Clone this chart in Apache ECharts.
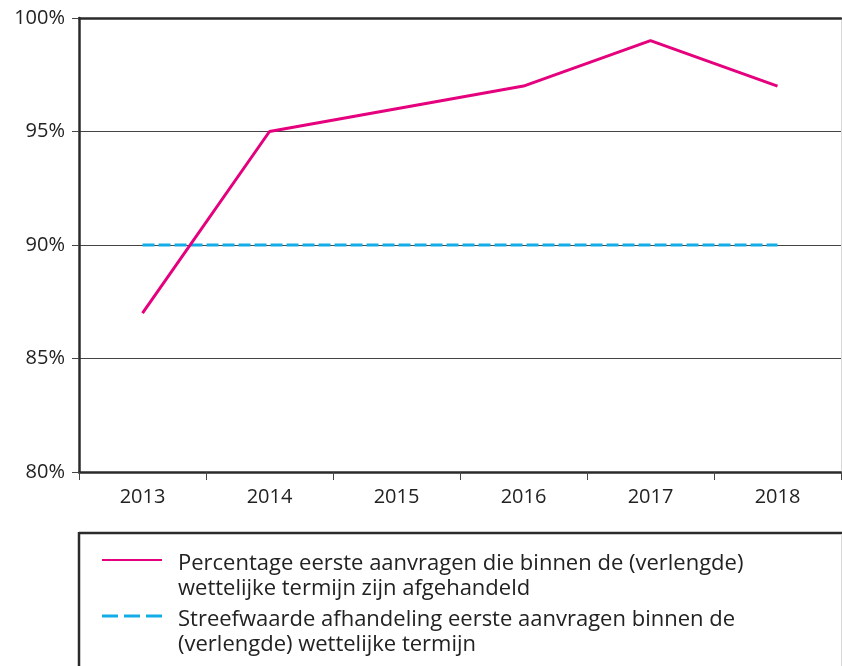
<!DOCTYPE html>
<html>
<head>
<meta charset="utf-8">
<script src="https://cdn.jsdelivr.net/npm/echarts@6/dist/echarts.min.js"></script>
<style>
  html, body { margin: 0; padding: 0; background: #fff; }
  #chart { width: 842px; height: 666px; }
</style>
</head>
<body>
<div id="chart"></div>
<script>
// jaren
const years = ['2013', '2014', '2015', '2016', '2017', '2018']
// percentage afgehandeld binnen termijn
const percentage = [87, 95, 96, 97, 99, 97]
// streefwaarde
const target = [90, 90, 90, 90, 90, 90]
const seriesNames = [
  'Percentage eerste aanvragen die binnen de (verlengde)\nwettelijke termijn zijn afgehandeld',
  'Streefwaarde afhandeling eerste aanvragen binnen de\n(verlengde) wettelijke termijn'
]

const pink = '#e5007d'
const cyan = '#12ade6'
const font = "'Open Sans', 'Liberation Sans', Arial, sans-serif"

const myChart = echarts.init(document.getElementById('chart'))

// lege regel ervoor zodat de eerste regel naast het lijntje staat
const legendFormatter = (name) => {
  const lines = name.split('\n')
  return '{b| }\n' + lines.map(l => '{t|' + l + '}').join('\n')
}
const legendText = {
  rich: {
    b: { fontSize: 10, lineHeight: 33 },
    t: {
      fontFamily: font,
      fontSize: 22,
      color: '#222',
      lineHeight: 25,
      padding: [0, 0, 0, 11]
    }
  }
}
// lijntjes in de legenda
const solidIcon = 'path://M0,0h60v2h-60z'
const dashIcon = 'path://M0,0h16v3h-16zM22,0h16v3h-16zM44,0h16v3h-16z'

const options = {
  animation: false,
  grid: { left: 79, right: 1, top: 18, bottom: 194 },
  xAxis: [
    {
      type: 'category',
      data: years,
      boundaryGap: true,
      axisLine: { lineStyle: { color: '#2b2b2b', width: 2.5 } },
      axisTick: { show: true, length: 8, lineStyle: { color: '#444', width: 1 } },
      axisLabel: { fontFamily: font, fontSize: 20, color: '#222', margin: 15 }
    },
    {
      // bovenrand
      type: 'category',
      data: years,
      position: 'top',
      axisLine: { lineStyle: { color: '#2b2b2b', width: 2.5 } },
      axisTick: { show: false },
      axisLabel: { show: false }
    }
  ],
  yAxis: [
    {
      type: 'value',
      min: 80,
      max: 100,
      interval: 5,
      axisLine: { show: true, lineStyle: { color: '#2b2b2b', width: 2.5 } },
      axisTick: { show: true, length: 7, lineStyle: { color: '#444', width: 1 } },
      axisLabel: { fontFamily: font, fontSize: 20, color: '#222', margin: 14, formatter: '{value}%' },
      splitLine: { show: true, lineStyle: { color: '#444', width: 1 } }
    },
    {
      // rechterrand
      type: 'value',
      min: 80,
      max: 100,
      position: 'right',
      axisLine: { show: true, lineStyle: { color: '#d8d8d8', width: 1 } },
      axisTick: { show: false },
      axisLabel: { show: false },
      splitLine: { show: false }
    }
  ],
  legend: [
    {
      orient: 'vertical',
      left: 102,
      top: 530,
      padding: 0,
      itemWidth: 60,
      itemHeight: 2,
      symbolKeepAspect: false,
      formatter: legendFormatter,
      data: [{ name: seriesNames[0], icon: solidIcon }],
      textStyle: legendText
    },
    {
      orient: 'vertical',
      left: 102,
      top: 586,
      padding: 0,
      itemWidth: 60,
      itemHeight: 3,
      symbolKeepAspect: false,
      formatter: legendFormatter,
      data: [{ name: seriesNames[1], icon: dashIcon }],
      textStyle: legendText
    }
  ],
  graphic: [
    { type: 'line', shape: { x1: 79, y1: 533, x2: 842, y2: 533 }, style: { stroke: '#2b2b2b', lineWidth: 2.5 } },
    { type: 'line', shape: { x1: 79, y1: 532, x2: 79, y2: 666 }, style: { stroke: '#2b2b2b', lineWidth: 2.5 } },
    { type: 'line', shape: { x1: 841.5, y1: 534, x2: 841.5, y2: 666 }, style: { stroke: '#d8d8d8', lineWidth: 1 } }
  ],
  series: [
    {
      name: seriesNames[1],
      type: 'line',
      data: target,
      symbol: 'none',
      z: 3,
      lineStyle: { color: cyan, width: 3, type: [12, 4] },
      itemStyle: { color: cyan }
    },
    {
      name: seriesNames[0],
      type: 'line',
      data: percentage,
      symbol: 'none',
      z: 4,
      lineStyle: { color: pink, width: 3 },
      itemStyle: { color: pink }
    }
  ]
}
myChart.setOption(options)
</script>
</body>
</html>
